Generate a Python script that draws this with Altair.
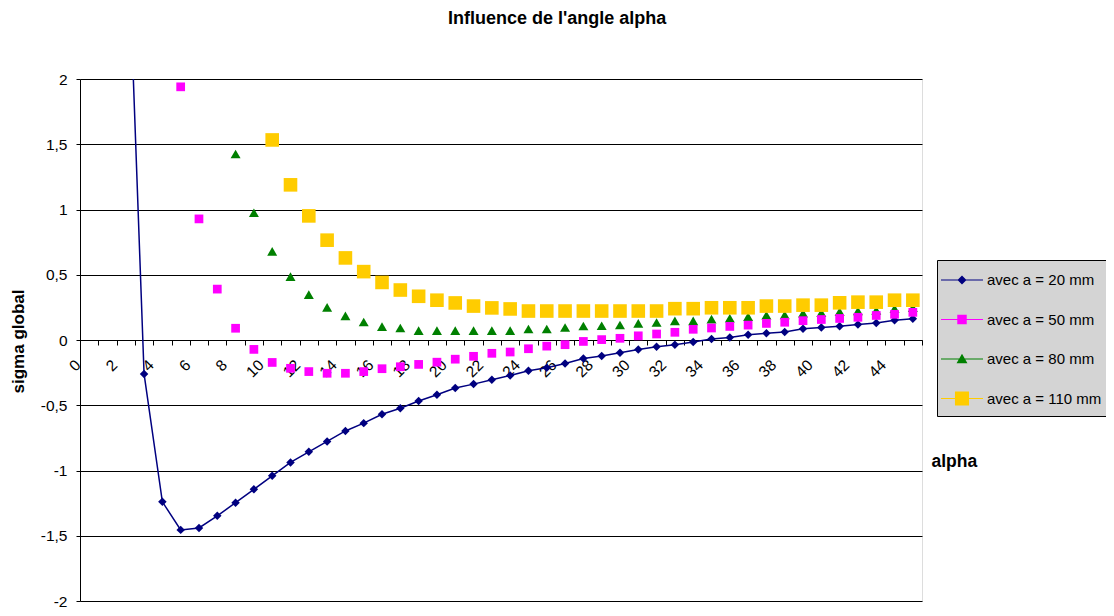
import altair as alt
import pandas as pd

SERIES = ["avec a = 20 mm", "avec a = 50 mm", "avec a = 80 mm", "avec a = 110 mm"]
MARK_COLORS = ["#000080", "#FF00FF", "#008000", "#FFCC00"]
ALPHA_DOMAIN = list(range(0, 46))
Y_TICKS = [-2, -1.5, -1, -0.5, 0, 0.5, 1, 1.5, 2]

ALPHA_20 = list(range(2, 46))
SIGMA_20 = [3.6, -0.26, -1.24, -1.455, -1.44, -1.347, -1.247, -1.144, -1.041, -0.938,
            -0.857, -0.777, -0.697, -0.637, -0.569, -0.523, -0.467, -0.42, -0.368, -0.338,
            -0.305, -0.272, -0.235, -0.212, -0.18, -0.142, -0.123, -0.097, -0.073, -0.051,
            -0.037, -0.016, 0.007, 0.019, 0.04, 0.052, 0.061, 0.087, 0.096, 0.106,
            0.119, 0.131, 0.152, 0.162]

ALPHA_50 = list(range(5, 46))
SIGMA_50 = [1.94, 0.928, 0.39, 0.09, -0.072, -0.172, -0.217, -0.242, -0.255, -0.255,
            -0.242, -0.22, -0.205, -0.187, -0.17, -0.147, -0.125, -0.102, -0.092, -0.067,
            -0.047, -0.036, -0.011, 0.003, 0.013, 0.032, 0.046, 0.059, 0.082, 0.092,
            0.104, 0.114, 0.127, 0.136, 0.148, 0.157, 0.165, 0.174, 0.188, 0.197, 0.212]

ALPHA_80 = list(range(8, 46))
SIGMA_80 = [1.425, 0.975, 0.679, 0.486, 0.348, 0.25, 0.185, 0.138, 0.103, 0.092,
            0.072, 0.072, 0.072, 0.072, 0.072, 0.072, 0.084, 0.084, 0.096, 0.107,
            0.109, 0.115, 0.127, 0.134, 0.147, 0.147, 0.16, 0.167, 0.179, 0.19,
            0.192, 0.205, 0.209, 0.217, 0.222, 0.227, 0.24, 0.247]

ALPHA_110 = list(range(10, 46))
SIGMA_110 = [1.533, 1.189, 0.951, 0.765, 0.629, 0.524, 0.441, 0.383, 0.335, 0.305,
             0.284, 0.26, 0.246, 0.238, 0.222, 0.222, 0.222, 0.222, 0.222, 0.222,
             0.222, 0.222, 0.24, 0.24, 0.247, 0.247, 0.247, 0.26, 0.26, 0.267,
             0.267, 0.285, 0.29, 0.29, 0.305, 0.305]

rows = []
for name, xs, ys in [(SERIES[0], ALPHA_20, SIGMA_20), (SERIES[1], ALPHA_50, SIGMA_50),
                     (SERIES[2], ALPHA_80, SIGMA_80), (SERIES[3], ALPHA_110, SIGMA_110)]:
    for a, s in zip(xs, ys):
        rows.append({"series": name, "alpha": a, "sigma": s})
df = pd.DataFrame(rows)

FONT = "Liberation Sans"
PLOT_W, PLOT_H = 842, 522

x_enc = alt.X(
    "alpha:O",
    scale=alt.Scale(type="band", domain=ALPHA_DOMAIN, paddingInner=0, paddingOuter=0),
    axis=alt.Axis(
        title="alpha", titleFont=FONT, titleFontSize=17.5, titleFontWeight="bold",
        titleColor="black", titleX=851, titleY=126, titleAlign="left",
        titleBaseline="alphabetic", titleAngle=0,
        offset=-PLOT_H / 2, tickBand="extent", tickSize=5, tickColor="black",
        domainColor="black", domainWidth=1, grid=False,
        labelExpr="datum.value % 2 == 0 ? datum.label : ''", labelOverlap=False,
        labelAngle=-45, labelAlign="right", labelBaseline="middle",
        labelOffset=-11.5, labelPadding=17, labelFont=FONT, labelFontSize=15.5,
        labelColor="black",
    ),
)
y_enc = alt.Y(
    "sigma:Q",
    scale=alt.Scale(domain=[-2, 2], nice=False, zero=False),
    axis=alt.Axis(
        title="sigma global", titleFont=FONT, titleFontSize=17, titleFontWeight="bold",
        titleColor="black", titleX=-62, titleY=PLOT_H / 2 + 1, titleAngle=270,
        titleAlign="center", titleBaseline="middle",
        values=Y_TICKS, labelExpr="replace(toString(datum.value), '.', ',')",
        grid=True, gridColor="black", gridWidth=1, tickSize=4, tickColor="black",
        domainColor="black", labelPadding=9, labelFont=FONT, labelFontSize=15.5,
        labelColor="black",
    ),
)

base = alt.Chart(df)

line20 = base.transform_filter(alt.datum.series == SERIES[0]).mark_line(
    color=MARK_COLORS[0], strokeWidth=1.5, clip=True
).encode(x=x_enc, y=y_enc)

def pts(i, shape, size):
    return base.transform_filter(alt.datum.series == SERIES[i]).mark_point(
        shape=shape, filled=True, color=MARK_COLORS[i], size=size, opacity=1,
        strokeWidth=0, clip=True
    ).encode(x=x_enc, y=y_enc)

p20 = pts(0, "diamond", 72)
p80 = pts(2, "triangle-up", 100)
p50 = pts(1, "square", 76)
p110 = pts(3, "square", 185)

LEGEND_PATHS = [
    "M-2,-0.05H2V0.05H-2Z M0,-0.43L0.43,0L0,0.43L-0.43,0Z",
    "M-2,-0.05H2V0.05H-2Z M-0.45,-0.45H0.45V0.45H-0.45Z",
    "M-2,-0.05H2V0.05H-2Z M0,-0.5L0.52,0.4L-0.52,0.4Z",
    "M-2,-0.05H2V0.05H-2Z M-0.67,-0.67H0.67V0.67H-0.67Z",
]
leg = alt.Legend(
    title=None, orient="none", legendX=857, legendY=181,
    fillColor="#d4d4d4", strokeColor="black", padding=9.5,
    symbolSize=441, symbolStrokeWidth=0, symbolOffset=5, labelOffset=14.5,
    rowPadding=20.5, labelFont=FONT, labelFontSize=15, labelColor="black",
    labelLimit=300,
)
legend_layer = base.transform_filter("false").mark_point(filled=True, opacity=1).encode(
    x=x_enc, y=y_enc,
    color=alt.Color("series:N", scale=alt.Scale(domain=SERIES, range=MARK_COLORS), legend=leg),
    shape=alt.Shape("series:N", scale=alt.Scale(domain=SERIES, range=LEGEND_PATHS), legend=leg),
)

chart = alt.layer(line20, p20, p80, p50, p110, legend_layer).properties(
    width=PLOT_W, height=PLOT_H,
    title=alt.TitleParams(
        "Influence de l'angle alpha", font=FONT, fontSize=18, fontWeight="bold",
        color="black", anchor="start", frame="group", dx=368, offset=44,
    ),
    padding={"left": 72, "top": 71, "right": 184, "bottom": 7},
    autosize=alt.AutoSizeParams(type="none"),
).configure_view(stroke="#808080", strokeWidth=1).configure(background="white")

chart.save("out.html", embed_options={"renderer": "svg", "actions": False})
